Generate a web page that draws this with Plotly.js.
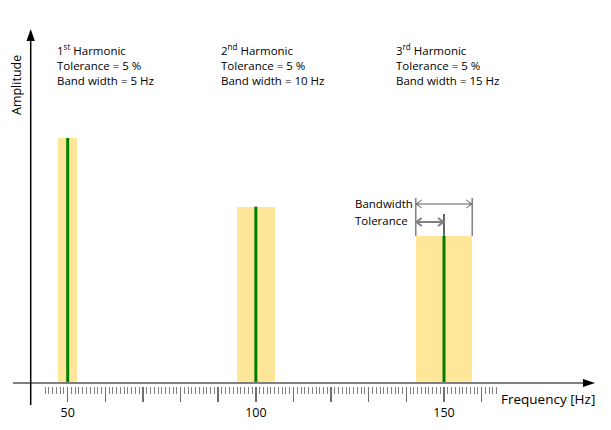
<!DOCTYPE html>
<html><head><meta charset="utf-8">
<script src="https://cdn.plot.ly/plotly-3.0.1.min.js"></script>
<style>html,body{margin:0;padding:0;background:#fff}#chart{width:611px;height:430px}</style>
</head><body><div id="chart"></div>
<script>
// ---- data ----
const harmonics = [50, 100, 150];            // Hz
const amplitudes = [1.0, 0.72, 0.60];        // relative amplitude
const bandwidths = [5, 10, 15];              // Hz
const tolerances = [5, 5, 5];                // %
const ordinals = ["1<sup>st</sup>", "2<sup>nd</sup>", "3<sup>rd</sup>"];
const labelledTicks = [50, 100, 150];
const unlabelledMajorTicks = [60, 70, 80, 90, 110, 120, 130, 140, 160];
const minorTickFrom = 44, minorTickTo = 164;
const xTitle = "Frequency [Hz]";
const yTitle = "Amplitude";

// ---- geometry ----
const W = 611, H = 430, MB = 44;
const PH = H - MB;                 // plot height
const xRange = [32.01, 194.38];
const yPxPerUnit = 245;
const yRange = [-3 / yPxPerUnit, 383 / yPxPerUnit];
const FONT = "Open Sans";

const xToPx = v => (v - xRange[0]) * W / (xRange[1] - xRange[0]);
const yToPx = a => PH - (a - yRange[0]) * PH / (yRange[1] - yRange[0]);
const pX = p => p / W;
const pY = p => (PH - p) / PH;

const minorTicks = [];
for (let t = minorTickFrom; t <= minorTickTo; t++) if (t % 10 !== 0) minorTicks.push(t);

// ---- traces ----
const bars = {
  type: 'bar', x: harmonics, y: amplitudes, width: bandwidths,
  marker: {color: '#FFE699', line: {width: 0}}, hoverinfo: 'skip'
};
const lx = [], ly = [];
harmonics.forEach((f, i) => { lx.push(f, f, null); ly.push(0, amplitudes[i], null); });
const lines = {
  type: 'scatter', mode: 'lines', x: lx, y: ly,
  line: {color: '#008000', width: 3}, hoverinfo: 'skip'
};
// invisible trace to activate the second x axis (unlabelled long ticks)
const tickHelper = {type: 'scatter', mode: 'none', x: [labelledTicks[0]], y: [0], xaxis: 'x2', yaxis: 'y', hoverinfo: 'skip'};

// ---- shapes ----
const shapes = [];
const axY = yToPx(0);
shapes.push({type: 'line', xref: 'paper', yref: 'paper', x0: pX(13), x1: pX(584), y0: pY(axY), y1: pY(axY),
  line: {color: '#808080', width: 2}});
shapes.push({type: 'path', xref: 'paper', yref: 'paper',
  path: `M${pX(583)},${pY(axY - 4)} L${pX(595)},${pY(axY)} L${pX(583)},${pY(axY + 4)} Z`,
  fillcolor: '#000', line: {width: 0}});
const ayX = 30.7;
shapes.push({type: 'line', xref: 'paper', yref: 'paper', x0: pX(ayX), x1: pX(ayX), y0: pY(405), y1: pY(40),
  line: {color: '#000', width: 1.5}});
shapes.push({type: 'path', xref: 'paper', yref: 'paper',
  path: `M${pX(ayX - 4.2)},${pY(41)} L${pX(ayX)},${pY(29)} L${pX(ayX + 4.2)},${pY(41)} Z`,
  fillcolor: '#000', line: {width: 0}});

// bandwidth / tolerance markers on 3rd harmonic
const k = 2;
const f = harmonics[k], a = amplitudes[k];
const left = f - bandwidths[k] / 2, right = f + bandwidths[k] / 2;
const tolLeft = f - f * tolerances[k] / 100;
const Lp = xToPx(left), Rp = xToPx(right), Fp = xToPx(f), Tp = xToPx(tolLeft);
const topP = yToPx(a);
const bwY = topP - 32, tolY = topP - 14;
function vline(x, y0, y1, color, w) {
  shapes.push({type: 'line', xref: 'paper', yref: 'paper', x0: pX(x), x1: pX(x), y0: pY(y0), y1: pY(y1),
    line: {color: color, width: w}});
}
function darrow(x0, x1, y, color, w) {
  shapes.push({type: 'line', xref: 'paper', yref: 'paper', x0: pX(x0), x1: pX(x1), y0: pY(y), y1: pY(y),
    line: {color: color, width: w}});
  shapes.push({type: 'path', xref: 'paper', yref: 'paper',
    path: `M${pX(x0 + 6)},${pY(y - 4)} L${pX(x0 + 0.5)},${pY(y)} L${pX(x0 + 6)},${pY(y + 4)}`,
    line: {color: color, width: w}});
  shapes.push({type: 'path', xref: 'paper', yref: 'paper',
    path: `M${pX(x1 - 6)},${pY(y - 4)} L${pX(x1 - 0.5)},${pY(y)} L${pX(x1 - 6)},${pY(y + 4)}`,
    line: {color: color, width: w}});
}
vline(Lp, topP, topP - 38, '#808080', 1.5);
vline(Rp, topP, topP - 38, '#808080', 1.5);
vline(Fp, topP, topP - 22, '#000', 1.2);
darrow(Lp, Rp, bwY, '#595959', 1);
darrow(Tp, Fp, tolY, '#808080', 2);

// ---- annotations ----
const ann = [];
const blockX = [56, 219.5, 395];
const txt = (text, x, y, extra) => Object.assign({
  text: text, xref: 'paper', yref: 'paper', x: pX(x), y: pY(y), xanchor: 'left', yanchor: 'middle',
  showarrow: false, borderpad: 0, font: {family: FONT, size: 11.5, color: '#000'}
}, extra || {});
harmonics.forEach((h, i) => {
  ann.push(txt(ordinals[i] + " Harmonic", blockX[i], 49));
  ann.push(txt("Tolerance = " + tolerances[i] + " %", blockX[i], 65));
  ann.push(txt("Band width = " + bandwidths[i] + " Hz", blockX[i], 81));
});
ann.push(txt("Bandwidth", Lp - 2, bwY - 1, {xanchor: 'right'}));
ann.push(txt("Tolerance", Lp - 7, tolY - 2, {xanchor: 'right'}));
ann.push(txt(xTitle, 500, 399, {font: {family: FONT, size: 13.5, color: '#000'}}));
ann.push(txt(yTitle, 16, 85, {xanchor: 'center', textangle: -90, font: {family: FONT, size: 12.5, color: '#000'}}));

const tickStyle = {ticks: 'outside', ticklen: 15, tickwidth: 1.5, tickcolor: '#707070'};
const layout = {
  width: W, height: H,
  margin: {l: 0, r: 0, t: 0, b: MB, pad: 0},
  paper_bgcolor: '#fff', plot_bgcolor: '#fff',
  showlegend: false, bargap: 0,
  font: {family: FONT, size: 12, color: '#000'},
  xaxis: Object.assign({
    range: xRange, showgrid: false, zeroline: false, showline: false, fixedrange: true,
    tickmode: 'array', tickvals: labelledTicks, ticktext: labelledTicks.map(String),
    tickfont: {family: FONT, size: 12.5, color: '#000'},
    minor: {tickmode: 'array', tickvals: minorTicks, ticks: 'outside', ticklen: 7, tickwidth: 1, tickcolor: '#808080', showgrid: false}
  }, tickStyle),
  xaxis2: Object.assign({
    range: xRange, overlaying: 'x', anchor: 'y', side: 'bottom',
    showgrid: false, zeroline: false, showline: false, showticklabels: false, fixedrange: true,
    tickmode: 'array', tickvals: unlabelledMajorTicks
  }, tickStyle),
  yaxis: {
    range: yRange, showgrid: false, zeroline: false, showline: false, showticklabels: false, ticks: '', fixedrange: true
  },
  shapes: shapes,
  annotations: ann
};

Plotly.newPlot('chart', [bars, lines, tickHelper], layout, {displayModeBar: false, staticPlot: true});
</script>
</body></html>
